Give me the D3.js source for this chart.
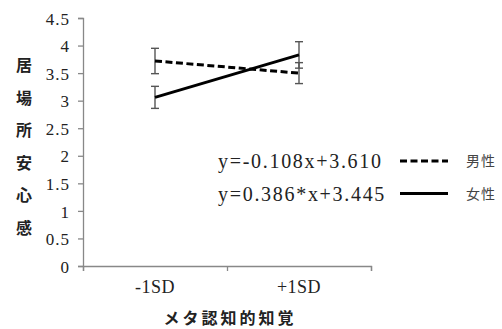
<!DOCTYPE html>
<html>
<head>
<meta charset="utf-8">
<script src="https://cdn.jsdelivr.net/npm/d3@7"></script>
<style>
  body { margin: 0; background: #fff; }
  svg { display: block; }
</style>
</head>
<body>
<svg id="chart" width="502" height="329"></svg>
<script>
// data
var categories = ["-1SD", "+1SD"];
var maleValues = [3.72, 3.50];
var maleErrors = [0.23, 0.19];
var femaleValues = [3.06, 3.83];
var femaleErrors = [0.20, 0.24];
var yTicks = [0, 0.5, 1, 1.5, 2, 2.5, 3, 3.5, 4, 4.5];
var seriesNames = ["男性", "女性"];
var equations = ["y=-0.108x+3.610", "y=0.386*x+3.445"];
var yTitle = "居場所安心感";
var xTitle = "メタ認知的知覚";

var serif = "'Liberation Serif', 'Times New Roman', 'DejaVu Serif', Times, serif";
var jp = "'Noto Sans CJK JP', sans-serif";

var svg = d3.select("#chart"),
    margin = {top: 18, right: 131, bottom: 63, left: 83},
    width = +svg.attr("width") - margin.left - margin.right,
    height = +svg.attr("height") - margin.top - margin.bottom,
    g = svg.append("g").attr("transform", "translate(" + margin.left + "," + margin.top + ")");

var x = d3.scaleBand().domain(categories).range([0, width]).padding(0),
    xEdges = d3.scaleLinear().domain([0, categories.length]).range([0, width]),
    y = d3.scaleLinear().domain([0, 4.5]).range([height, 0]);

var series = [
  {name: seriesNames[0], values: maleValues, errors: maleErrors, dash: "7,3.5"},
  {name: seriesNames[1], values: femaleValues, errors: femaleErrors, dash: null}
];

// y axis
var yAxis = g.append("g")
    .call(d3.axisLeft(y).tickValues(yTicks).tickSize(5).tickPadding(8).tickFormat(d3.format("")));
yAxis.select(".domain").attr("stroke", "#888").attr("stroke-width", 1.3);
yAxis.selectAll(".tick line").attr("stroke", "#888").attr("stroke-width", 1.3);
yAxis.selectAll("text")
    .attr("fill", "#222")
    .style("font-family", serif)
    .style("font-size", "17px")
    .style("letter-spacing", "1px")
    .attr("dy", "0.36em");

// x axis (ticks at band edges)
var xAxis = g.append("g")
    .attr("transform", "translate(0," + height + ")")
    .call(d3.axisBottom(xEdges).tickValues(d3.range(categories.length + 1)).tickSize(5).tickFormat(""));
xAxis.select(".domain").attr("stroke", "#888").attr("stroke-width", 1.3);
xAxis.selectAll(".tick line").attr("stroke", "#888").attr("stroke-width", 1.3);

g.append("g").selectAll("text")
    .data(categories)
  .enter().append("text")
    .attr("x", function(d) { return x(d) + x.bandwidth() / 2; })
    .attr("y", height + 27)
    .attr("text-anchor", "middle")
    .attr("fill", "#222")
    .style("font-family", serif)
    .style("font-size", "18px")
    .style("letter-spacing", "0.5px")
    .text(function(d) { return d; });

// axis titles
svg.append("text")
    .attr("x", 230)
    .attr("y", 324)
    .attr("text-anchor", "middle")
    .attr("fill", "#222")
    .style("font-family", jp)
    .style("font-size", "16px")
    .style("font-weight", "bold")
    .style("letter-spacing", "3px")
    .text(xTitle);

svg.append("g").selectAll("text")
    .data(yTitle.split(""))
  .enter().append("text")
    .attr("x", 24)
    .attr("y", function(d, i) { return 71 + i * 32.5; })
    .attr("text-anchor", "middle")
    .attr("fill", "#222")
    .style("font-family", jp)
    .style("font-size", "16px")
    .style("font-weight", "bold")
    .text(function(d) { return d; });

// error bars
var cap = 4;
series.forEach(function(s) {
  var eb = g.append("g").attr("stroke", "#555").attr("stroke-width", 1.4);
  categories.forEach(function(c, i) {
    var cx = x(c) + x.bandwidth() / 2,
        hi = y(s.values[i] + s.errors[i]),
        lo = y(s.values[i] - s.errors[i]);
    eb.append("line").attr("x1", cx).attr("x2", cx).attr("y1", hi).attr("y2", lo);
    eb.append("line").attr("x1", cx - cap).attr("x2", cx + cap).attr("y1", hi).attr("y2", hi);
    eb.append("line").attr("x1", cx - cap).attr("x2", cx + cap).attr("y1", lo).attr("y2", lo);
  });
});

// lines
var line = d3.line()
    .x(function(d, i) { return x(categories[i]) + x.bandwidth() / 2; })
    .y(function(d) { return y(d); });

series.forEach(function(s) {
  g.append("path")
      .attr("d", line(s.values))
      .attr("fill", "none")
      .attr("stroke", "#000")
      .attr("stroke-width", 3)
      .attr("stroke-dasharray", s.dash);
});

// legend with equations
var legend = svg.append("g");
series.forEach(function(s, i) {
  var ly = 161 + i * 32.5;
  legend.append("text")
      .attr("x", 218)
      .attr("y", ly + 7)
      .attr("fill", "#222")
      .style("font-family", serif)
      .style("font-size", "20px")
      .style("letter-spacing", "1.7px")
      .text(equations[i]);
  legend.append("line")
      .attr("x1", 400).attr("x2", 448)
      .attr("y1", ly).attr("y2", ly)
      .attr("stroke", "#000")
      .attr("stroke-width", 3)
      .attr("stroke-dasharray", s.dash);
  legend.append("text")
      .attr("x", 466)
      .attr("y", ly + 5)
      .attr("fill", "#444")
      .style("font-family", jp)
      .style("font-size", "14px")
      .style("letter-spacing", "1px")
      .text(s.name);
});
</script>
</body>
</html>
